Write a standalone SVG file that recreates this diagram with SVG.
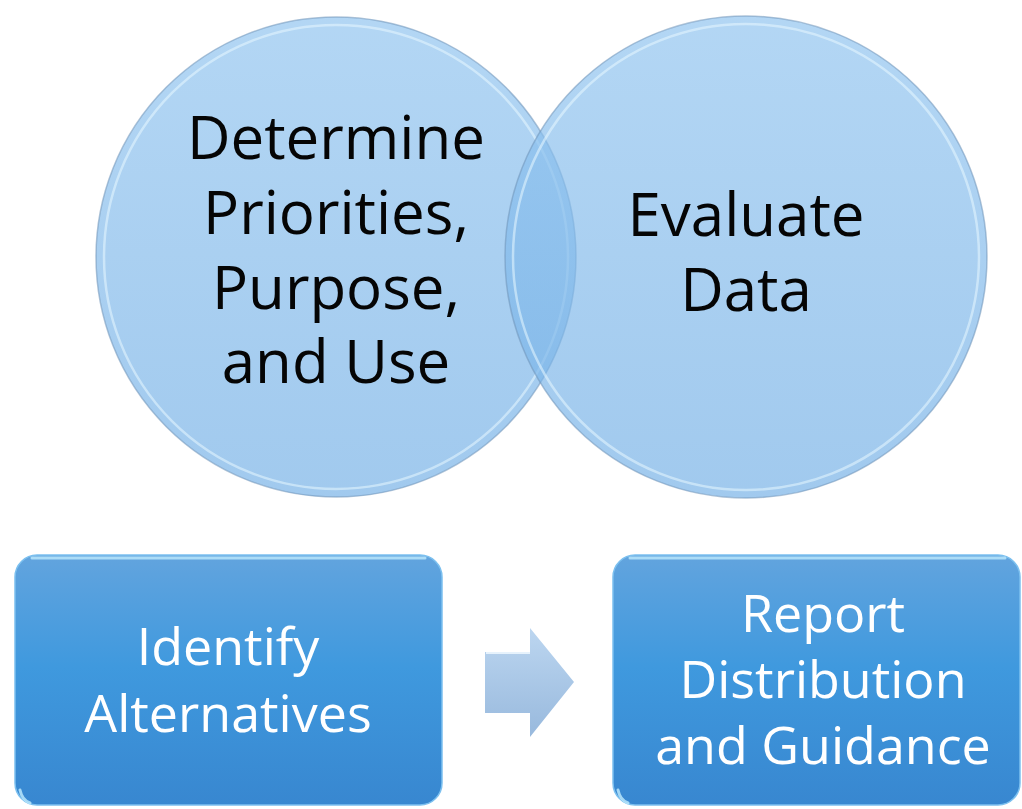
<svg xmlns="http://www.w3.org/2000/svg" width="1022" height="809" viewBox="0 0 1022 809">
  <defs>
    <linearGradient id="circFill" x1="0" y1="0" x2="0" y2="1">
      <stop offset="0" stop-color="#8fc3ef"/>
      <stop offset="1" stop-color="#74b0e6"/>
    </linearGradient>
    <linearGradient id="boxFill" x1="0" y1="0" x2="0" y2="1">
      <stop offset="0" stop-color="#62a4de"/>
      <stop offset="0.45" stop-color="#3f99de"/>
      <stop offset="1" stop-color="#3887d0"/>
    </linearGradient>
    <linearGradient id="arrowFill" x1="0" y1="0" x2="0" y2="1">
      <stop offset="0" stop-color="#bcd6f0"/>
      <stop offset="1" stop-color="#98b9dd"/>
    </linearGradient>
    <style>
      .circ { fill: url(#circFill); fill-opacity: 0.68; stroke: #6f93b8; stroke-opacity: 0.55; stroke-width: 1.5; }
      .ring { fill: none; stroke: #e8f8ff; stroke-opacity: 0.55; stroke-width: 2.5; }
      .box { fill: url(#boxFill); stroke: #7cc0ef; stroke-width: 1.5; }
      .hl { fill: none; stroke: #b8e6fc; stroke-width: 3; stroke-linecap: round; opacity: 0.85; }
      .dark { font-family: "Open Sans", "Noto Sans", sans-serif; font-size: 60px; fill: #050505; text-anchor: middle; }
      .light { font-family: "Open Sans", "Noto Sans", sans-serif; font-size: 52px; fill: #ffffff; text-anchor: middle; }
      .arrow { fill: url(#arrowFill); }
    </style>
  </defs>
  <rect width="1022" height="809" fill="#ffffff"/>

  <g id="node-priorities">
    <circle class="circ" cx="336" cy="257" r="240"/>
    <circle class="ring" cx="336" cy="257" r="232"/>
    <text class="dark" x="336" y="159">Determine</text>
    <text class="dark" x="336" y="234">Priorities,</text>
    <text class="dark" x="336" y="309">Purpose,</text>
    <text class="dark" x="336" y="383">and Use</text>
  </g>

  <g id="node-evaluate">
    <circle class="circ" cx="746" cy="257" r="241"/>
    <circle class="ring" cx="746" cy="257" r="233"/>
    <text class="dark" x="746" y="236">Evaluate</text>
    <text class="dark" x="746" y="311">Data</text>
  </g>

  <g id="node-identify">
    <rect class="box" x="15" y="555" width="427" height="250" rx="22" ry="22"/>
    <path class="hl" d="M32 558 H425"/>
    <path class="hl" d="M20 790 Q22 800 30 803"/>
    <text class="light" x="228" y="665">Identify</text>
    <text class="light" x="228" y="732">Alternatives</text>
  </g>

  <g id="node-report">
    <rect class="box" x="613" y="555" width="407" height="250" rx="22" ry="22"/>
    <path class="hl" d="M630 558 H1005"/>
    <path class="hl" d="M618 790 Q620 800 628 803"/>
    <text class="light" x="823" y="632">Report</text>
    <text class="light" x="823" y="698">Distribution</text>
    <text class="light" x="823" y="764">and Guidance</text>
  </g>

  <g id="connectors">
    <path class="arrow" d="M485 652 H530 V628 L574 682 L530 737 V713 H485 Z"/>
    <path d="M486 653 H530" stroke="#e6f2fc" stroke-width="2" fill="none"/>
  </g>
</svg>
